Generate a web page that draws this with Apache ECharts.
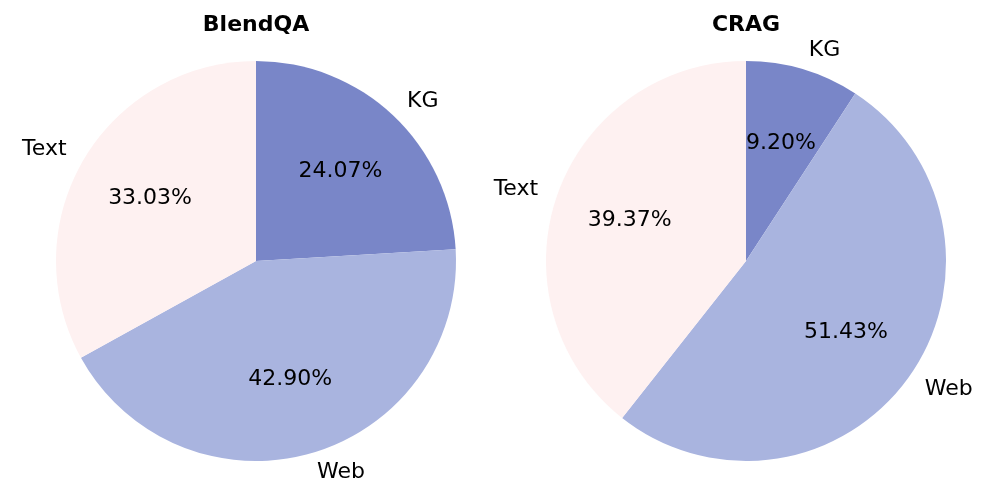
<!DOCTYPE html>
<html><head><meta charset="utf-8">
<script src="https://cdn.jsdelivr.net/npm/echarts@6/dist/echarts.min.js"></script>
<style>html,body{margin:0;padding:0;background:#fff}#c{width:997px;height:498px}</style>
</head><body><div id="c"></div>
<script>
const categories = ['KG', 'Web', 'Text'];
const blendqaValues = [24.07, 42.90, 33.03];
const cragValues = [9.20, 51.43, 39.37];
const titles = ['BlendQA', 'CRAG'];
const colors = ['#7986C8', '#A9B4DF', '#FEF1F1'];

const chart = echarts.init(document.getElementById('c'));
const font = 'DejaVu Sans';
const R = 200;
const centers = [[256, 261], [746, 261]];
const datasets = [blendqaValues, cragValues];

const series = [];
datasets.forEach((vals, i) => {
  const data = categories.map((c, j) => ({ name: c, value: vals[j], itemStyle: { color: colors[j] } }));
  series.push({
    type: 'pie', center: centers[i], radius: [0, R], startAngle: 90, clockwise: true,
    avoidLabelOverlap: false, silent: true, animation: false,
    data: data,
    label: { show: true, position: 'outside', formatter: '{b}', fontFamily: font, fontSize: 22, color: '#000', distanceToLabelLine: 0 },
    labelLine: { show: false, length: R * 0.1, length2: 0 },
    itemStyle: { borderWidth: 0 }
  });
  series.push({
    type: 'pie', center: centers[i], radius: [0, R * 1.2], startAngle: 90, clockwise: true,
    avoidLabelOverlap: false, silent: true, animation: false,
    data: categories.map((c, j) => ({ name: c, value: vals[j] })),
    itemStyle: { color: 'rgba(0,0,0,0)', borderWidth: 0 },
    label: { show: true, position: 'inside', formatter: p => p.value.toFixed(2) + '%', fontFamily: font, fontSize: 22, color: '#000' },
    labelLine: { show: false }
  });
});

chart.setOption({
  backgroundColor: '#fff',
  animation: false,
  title: titles.map((t, i) => ({
    text: t, left: centers[i][0] - 5, top: 9, textAlign: 'center',
    textStyle: { fontFamily: font, fontWeight: 'bold', fontSize: 22, color: '#000' }
  })),
  series: series
});
</script></body></html>
